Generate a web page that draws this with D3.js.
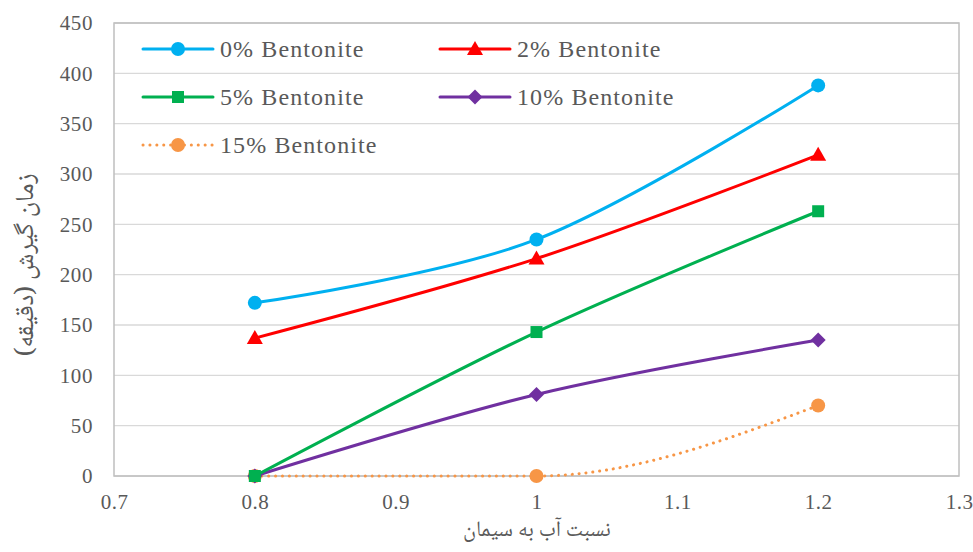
<!DOCTYPE html>
<html><head><meta charset="utf-8">
<script src="https://cdn.jsdelivr.net/npm/d3@7"></script>
<style>
body{margin:0;background:#fff}
</style>
</head><body>
<svg id="c" width="973" height="552"></svg>
<script>
const xValues = [0.8, 1.0, 1.2];
const seriesNames = ["0% Bentonite", "2% Bentonite", "5% Bentonite", "10% Bentonite", "15% Bentonite"];
const b0 = [172, 235, 388];
const b2 = [137, 216, 319];
const b5 = [0, 143, 263];
const b10 = [0, 81, 135];
const b15 = [0, 0, 70];
const xTicks = [0.7, 0.8, 0.9, 1.0, 1.1, 1.2, 1.3];
const yTicks = [0, 50, 100, 150, 200, 250, 300, 350, 400, 450];
const xTitle = "نسبت آب به سیمان";
const yTitle = "زمان گیرش (دقیقه)";

const styles = [
  {color: "#00B0F0", marker: "circle", dash: null, curve: d3.curveCatmullRom.alpha(0)},
  {color: "#FF0000", marker: "triangle", dash: null, curve: d3.curveCatmullRom.alpha(0)},
  {color: "#00B050", marker: "square", dash: null, curve: d3.curveCatmullRom.alpha(0)},
  {color: "#7030A0", marker: "diamond", dash: null, curve: d3.curveCatmullRom.alpha(0)},
  {color: "#F79646", marker: "circle", dash: "0.1,6.8", curve: d3.curveMonotoneX}
];
const seriesData = [b0, b2, b5, b10, b15];

const SERIF = "'Liberation Serif', Tinos, 'Times New Roman', serif";
const ARABIC = "'Noto Naskh Arabic', 'Liberation Serif', serif";

const svg = d3.select("#c");
const L = 114, R = 959, T = 23, B = 476;
const x = d3.scaleLinear().domain([0.7, 1.3]).range([L, R]);
const y = d3.scaleLinear().domain([0, 450]).range([B, T]);
const textCol = "#595959";

// gridlines
svg.append("g").selectAll("line").data(yTicks).join("line")
  .attr("x1", L).attr("x2", R).attr("y1", d => y(d)).attr("y2", d => y(d))
  .attr("stroke", "#d9d9d9").attr("stroke-width", 1.3);

// border
svg.append("rect").attr("x", L).attr("y", T).attr("width", R - L).attr("height", B - T)
  .attr("fill", "none").attr("stroke", "#bfbfbf").attr("stroke-width", 1.5);

function marker(g, type, color, cx, cy) {
  if (type === "circle") g.append("circle").attr("cx", cx).attr("cy", cy).attr("r", 7).attr("fill", color);
  else if (type === "triangle") g.append("path").attr("d", `M${cx},${cy-8}L${cx+8},${cy+6}L${cx-8},${cy+6}Z`).attr("fill", color);
  else if (type === "square") g.append("rect").attr("x", cx-6).attr("y", cy-6).attr("width", 12).attr("height", 12).attr("fill", color);
  else if (type === "diamond") g.append("path").attr("d", `M${cx},${cy-7.5}L${cx+7.5},${cy}L${cx},${cy+7.5}L${cx-7.5},${cy}Z`).attr("fill", color);
}

// axes
const xAxis = svg.append("g").attr("transform", `translate(0,${B})`)
  .call(d3.axisBottom(x).tickValues(xTicks).tickSize(0).tickPadding(18).tickFormat(d => String(+d.toFixed(1))));
xAxis.select(".domain").remove();
xAxis.selectAll("text").style("font-family", SERIF).style("font-size", "21px").style("letter-spacing", "0.5px").attr("fill", textCol);

const yAxis = svg.append("g").attr("transform", `translate(${L},0)`)
  .call(d3.axisLeft(y).tickValues(yTicks).tickSize(0).tickPadding(21));
yAxis.select(".domain").remove();
yAxis.selectAll("text").style("font-family", SERIF).style("font-size", "21px").style("letter-spacing", "0.6px").attr("fill", textCol);

// draw in reverse so 0% on top
const order = [4, 3, 2, 1, 0];
const lineGroup = svg.append("g");
order.forEach(i => {
  const st = styles[i];
  const pts = xValues.map((xv, j) => [xv, seriesData[i][j]]);
  const line = d3.line().x(d => x(d[0])).y(d => y(d[1])).curve(st.curve);
  const g = lineGroup.append("g");
  g.append("path").attr("d", line(pts)).attr("fill", "none").attr("stroke", st.color)
    .attr("stroke-width", 3).attr("stroke-linecap", "round")
    .attr("stroke-dasharray", st.dash);
  pts.forEach(p => marker(g, st.marker, st.color, x(p[0]), y(p[1])));
});

// titles
svg.append("text").attr("x", 537).attr("y", 536).attr("text-anchor", "middle")
  .style("font-family", ARABIC).style("font-size", "22px").style("letter-spacing", "0.5px").attr("fill", textCol)
  .attr("direction", "rtl").text(xTitle);
svg.append("text").attr("transform", `translate(33,265) rotate(-90)`).attr("text-anchor", "middle")
  .style("font-family", ARABIC).style("font-size", "26px").attr("fill", textCol)
  .attr("direction", "rtl").text(yTitle);

// legend
const legPos = [[143, 49], [440, 49], [143, 97], [440, 97], [143, 145]];
seriesNames.forEach((name, i) => {
  const st = styles[i];
  const [lx, ly] = legPos[i];
  const g = svg.append("g");
  g.append("line").attr("x1", lx).attr("x2", lx + 70).attr("y1", ly).attr("y2", ly)
    .attr("stroke", st.color).attr("stroke-width", 3).attr("stroke-linecap", "round")
    .attr("stroke-dasharray", st.dash);
  marker(g, st.marker, st.color, lx + 35, ly);
  g.append("text").attr("x", lx + 77).attr("y", ly).attr("dy", "0.35em")
    .style("font-family", SERIF).style("font-size", "24px").style("letter-spacing", "1.1px")
    .attr("fill", textCol).text(name);
});
</script>
</body></html>
